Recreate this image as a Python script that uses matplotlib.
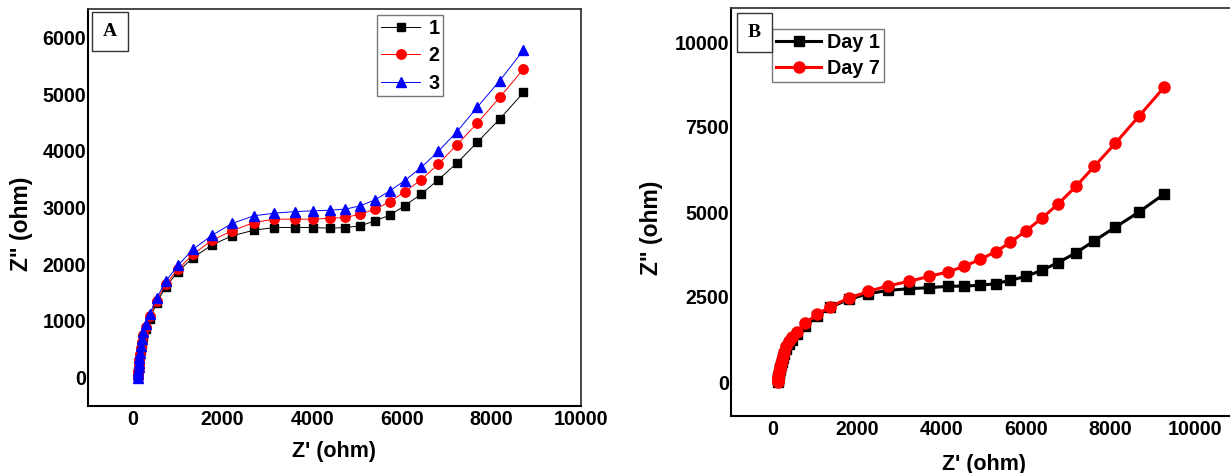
import matplotlib
matplotlib.use("Agg")
import matplotlib.pyplot as plt
from matplotlib.patches import Rectangle

# ---- Panel A: Nyquist data for three electrodes ----
zre_a = [110, 115, 120, 127, 135, 145, 158, 175, 200, 235,
         290, 380, 531, 735, 1009, 1345, 1770, 2212, 2699, 3159,
         3628, 4027, 4407, 4743, 5071, 5407, 5735, 6062, 6434, 6814,
         7230, 7681, 8186, 8717]
zim_a1 = [0, 50, 100, 160, 225, 295, 385, 490, 600, 710,
          850, 1040, 1320, 1600, 1870, 2118, 2341, 2500, 2600, 2647,
          2647, 2647, 2635, 2647, 2676, 2765, 2865, 3029, 3235, 3488,
          3782, 4147, 4559, 5029]
zim_a2 = [0, 55, 110, 175, 240, 315, 410, 520, 635, 750,
          895, 1080, 1360, 1650, 1912, 2176, 2424, 2588, 2735, 2794,
          2794, 2794, 2812, 2824, 2882, 2971, 3100, 3276, 3488, 3765,
          4106, 4482, 4941, 5441]
zim_a3 = [0, 60, 120, 190, 260, 340, 440, 560, 680, 800,
          950, 1130, 1400, 1700, 1982, 2265, 2512, 2718, 2853, 2900,
          2929, 2941, 2953, 2971, 3029, 3135, 3294, 3471, 3706, 3988,
          4335, 4765, 5235, 5776]
labels_a = ["1", "2", "3"]

# ---- Panel B: Nyquist data, Day 1 vs Day 7 ----
zre_b = [110, 114, 119, 125, 132, 141, 152, 166, 184, 206,
         232, 265, 310, 370, 450, 560, 760, 1040, 1357, 1794,
         2254, 2730, 3222, 3698, 4135, 4532, 4902, 5274, 5628, 6000,
         6372, 6763, 7181, 7619, 8112, 8670, 9270]
zim_day1 = [0, 45, 90, 145, 205, 270, 340, 415, 500, 595,
            705, 830, 980, 1120, 1250, 1400, 1640, 1930, 2200, 2430,
            2596, 2695, 2744, 2774, 2813, 2823, 2843, 2892, 2991, 3109,
            3287, 3514, 3801, 4156, 4551, 4995, 5528]
zim_day7 = [0, 50, 100, 160, 225, 295, 370, 450, 540, 640,
            760, 890, 1050, 1200, 1330, 1479, 1726, 1992, 2219, 2465,
            2663, 2830, 2959, 3107, 3235, 3402, 3603, 3830, 4107, 4452,
            4817, 5242, 5755, 6347, 7019, 7809, 8667]
labels_b = ["Day 1", "Day 7"]

xticks_a = [0, 2000, 4000, 6000, 8000, 10000]
yticks_a = [0, 1000, 2000, 3000, 4000, 5000, 6000]
xticks_b = [0, 2000, 4000, 6000, 8000, 10000]
yticks_b = [0, 2500, 5000, 7500, 10000]

plt.rcParams['font.family'] = ['Liberation Sans', 'DejaVu Sans']
plt.rcParams['font.weight'] = 'bold'

TICK_FS = 14.2
LABEL_FS_X = 15.5
LABEL_FS_Y = 16.5

W, H = 1230, 473
fig = plt.figure(figsize=(W / 100, H / 100), dpi=100)


def px_axes(l, t, r, b):
    return fig.add_axes([l / W, 1 - b / H, (r - l) / W, (b - t) / H])


def style_axes(ax):
    for side in ("left", "bottom"):
        ax.spines[side].set_linewidth(1.5)
        ax.spines[side].set_color("black")
    for side in ("top", "right"):
        ax.spines[side].set_linewidth(1.3)
        ax.spines[side].set_color("#3a3a3a")
    ax.tick_params(length=0, labelsize=TICK_FS)
    ax.tick_params(axis="x", pad=3)
    ax.tick_params(axis="y", pad=1.5)
    for lab in ax.get_xticklabels() + ax.get_yticklabels():
        lab.set_fontweight("bold")


def panel_tag(letter, l, t, r, b):
    fig.patches.append(Rectangle((l / W, 1 - b / H), (r - l) / W, (b - t) / H,
                                 transform=fig.transFigure, facecolor="white",
                                 edgecolor="#333333", linewidth=1.0, zorder=5))
    fig.text((l + r) / 2 / W, 1 - (t + b) / 2 / H, letter, ha="center", va="center",
             fontsize=14, fontweight="bold", family="Liberation Serif", zorder=6)


# Panel A
axA = px_axes(88, 9, 581, 406)
axA.plot(zre_a, zim_a1, color="black", lw=0.7, marker="s", ms=6.2, label=labels_a[0])
axA.plot(zre_a, zim_a2, color="red", lw=0.7, marker="o", ms=6.8, label=labels_a[1])
axA.plot(zre_a, zim_a3, color="blue", lw=0.7, marker="^", ms=7.5, label=labels_a[2])
axA.set_xlim(-1000, 10000)
axA.set_ylim(-500, 6500)
axA.set_xticks(xticks_a)
axA.set_yticks(yticks_a)
style_axes(axA)
axA.set_xlabel("Z' (ohm)", fontsize=LABEL_FS_X, fontweight="bold")
axA.set_ylabel('Z" (ohm)', fontsize=LABEL_FS_Y, fontweight="bold")
axA.xaxis.set_label_coords(0.50, -0.088)
axA.yaxis.set_label_coords(-0.112, 0.458)
legA = axA.legend(loc="upper left", bbox_to_anchor=(377 / W, 1 - 15 / H),
                  bbox_transform=fig.transFigure, fontsize=TICK_FS, frameon=True,
                  fancybox=False, edgecolor="#777777", framealpha=1,
                  handlelength=2.0, handletextpad=0.4, labelspacing=0.42,
                  borderpad=0.2, borderaxespad=0)
legA.get_frame().set_linewidth(1.0)
panel_tag("A", 92, 12, 128, 51)

# Panel B
axB = px_axes(731, 8, 1237, 416)
axB.plot(zre_b, zim_day1, color="black", lw=2.2, marker="s", ms=7.3, label=labels_b[0])
axB.plot(zre_b, zim_day7, color="red", lw=2.2, marker="o", ms=8.0, label=labels_b[1])
axB.set_xlim(-1000, 11000)
axB.set_ylim(-1000, 11000)
axB.set_xticks(xticks_b)
axB.set_yticks(yticks_b)
style_axes(axB)
axB.set_xlabel("Z' (ohm)", fontsize=LABEL_FS_X, fontweight="bold")
axB.set_ylabel('Z" (ohm)', fontsize=LABEL_FS_Y, fontweight="bold")
axB.xaxis.set_label_coords(0.50, -0.093)
axB.yaxis.set_label_coords(-0.134, 0.461)
legB = axB.legend(loc="upper left", bbox_to_anchor=(772 / W, 1 - 29 / H),
                  bbox_transform=fig.transFigure, fontsize=TICK_FS, frameon=True,
                  fancybox=False, edgecolor="#777777", framealpha=1,
                  handlelength=2.3, handletextpad=0.3, labelspacing=0.35,
                  borderpad=0.2, borderaxespad=0)
legB.get_frame().set_linewidth(1.0)
panel_tag("B", 737, 13, 772, 52)

fig.savefig("out.png", dpi=100)
